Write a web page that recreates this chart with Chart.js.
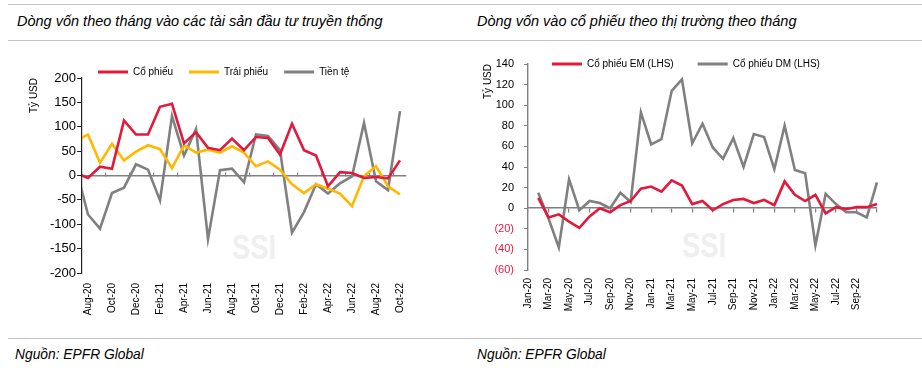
<!DOCTYPE html>
<html>
<head>
<meta charset="utf-8">
<script src="https://cdn.jsdelivr.net/npm/chart.js@4.4.0/dist/chart.umd.min.js"></script>
<style>
body { margin: 0; background: #fff; font-family: 'Liberation Sans', Arial, sans-serif; }
#page { position: relative; width: 922px; height: 378px; overflow: hidden; background: #fff; }
.rule { position: absolute; height: 0; border-top: 1.5px solid #c4c4c4; }
.ttl { position: absolute; font-style: italic; font-size: 14.5px; line-height: 16px; color: #000; white-space: nowrap; }
.src { position: absolute; font-style: italic; font-size: 13.8px; line-height: 16px; color: #000; white-space: nowrap; }
.wm { position: absolute; font-weight: bold; font-size: 35px; line-height: 35px; color: #efefef; transform: scaleX(0.78); transform-origin: left top; }
.box { position: absolute; }
</style>
</head>
<body>
<div id="page">
  <div class="rule" style="left:8px;top:4px;width:914px"></div>
  <div class="rule" style="left:8px;top:40px;width:914px"></div>
  <div class="rule" style="left:8px;top:338px;width:914px"></div>
  <div class="ttl" style="left:17px;top:13px">Dòng vốn theo tháng vào các tài sản đầu tư truyền thống</div>
  <div class="ttl" style="left:477px;top:13px">Dòng vốn vào cổ phiếu theo thị trường theo tháng</div>
  <div class="src" style="left:15px;top:347px">Nguồn: EPFR Global</div>
  <div class="src" style="left:477px;top:347px">Nguồn: EPFR Global</div>
  <div class="wm" style="left:232px;top:229px">SSI</div>
  <div class="wm" style="left:682px;top:227px">SSI</div>
  <div class="box" style="left:0;top:51px;width:461px;height:283px"><canvas id="left"></canvas></div>
  <div class="box" style="left:461px;top:35px;width:461px;height:299px"><canvas id="right"></canvas></div>
</div>
<script>
// left chart: monthly flows into traditional assets (Jul-20 only peeks in at the axis)
const leftMonths = ['Jul-20', 'Aug-20', 'Sep-20', 'Oct-20', 'Nov-20', 'Dec-20', 'Jan-21', 'Feb-21', 'Mar-21', 'Apr-21',
    'May-21', 'Jun-21', 'Jul-21', 'Aug-21', 'Sep-21', 'Oct-21', 'Nov-21', 'Dec-21', 'Jan-22', 'Feb-22',
    'Mar-22', 'Apr-22', 'May-22', 'Jun-22', 'Jul-22', 'Aug-22', 'Sep-22', 'Oct-22'];
const leftStocks = [5, -5, 18, 14, 113, 84, 84, 141, 147, 66, 89, 57, 52, 76, 52, 79, 77, 43, 106, 52, 41, -22, 7, 5, -5, -3, -6, 31];
const leftBonds = [71, 84, 26, 65, 31, 49, 62, 54, 15, 62, 47, 53, 47, 60, 47, 19, 29, 12, -18, -36, -18, -27, -37, -63, -1, 19, -22, -39];
const leftCurrency = [15, -80, -109, -36, -25, 23, 12, -51, 122, 41, 95, -130, 11, 14, -14, 84, 81, 52, -117, -75, -18, -37, -16, -2, 108, -12, -30, 132];

// right chart: equity flows by market
const rightMonths = ['Jan-20', 'Feb-20', 'Mar-20', 'Apr-20', 'May-20', 'Jun-20', 'Jul-20', 'Aug-20', 'Sep-20', 'Oct-20',
    'Nov-20', 'Dec-20', 'Jan-21', 'Feb-21', 'Mar-21', 'Apr-21', 'May-21', 'Jun-21', 'Jul-21', 'Aug-21',
    'Sep-21', 'Oct-21', 'Nov-21', 'Dec-21', 'Jan-22', 'Feb-22', 'Mar-22', 'Apr-22', 'May-22', 'Jun-22',
    'Jul-22', 'Aug-22', 'Sep-22', 'Oct-22', 'Nov-22'];
const emStocks = [null, 10, -9, -6, -13, -19, -8, 0, -4, 3, 7, 19, 21, 16, 27, 22, 4, 7, -2, 4, 8, 9, 5, 8, 3, 26, 13, 7, 13, -5, 1, -1, 1, 1, 4];
const dmStocks = [null, 15, -10, -38, 28, -2, 7, 5, 0, 15, 6, 93, 62, 67, 114, 125, 63, 82, 59, 48, 68, 40, 72, 69, 38, 80, 37, 34, -36, 14, 4, -4, -4, -9, 25];

const RED = '#e2193c';
const YELLOW = '#ffb700';
const GRAY = '#808080';

Chart.defaults.font.family = "'Liberation Sans', Arial, sans-serif";
Chart.defaults.color = '#000';

function lineLegend(chart) {
    return Chart.defaults.plugins.legend.labels.generateLabels(chart).map(function(l) {
        l.fillStyle = l.strokeStyle;
        l.lineWidth = 0;
        return l;
    });
}

// the legend sits half over the top of the plot, so don't clip it at the plot edge
const legendOverlap = {
    id: 'legendOverlap',
    afterLayout(chart) {
        chart.legend.bottom += 10;
        chart.legend.height += 10;
    }
};

// tick marks sit on month boundaries, every second month
function leftBoundaryTicks(scale) {
    const ticks = [];
    for (let i = 1; i < leftMonths.length; i += 2) {
        ticks.push({ value: i - 0.5 });
    }
    scale.ticks = ticks;
}

function points(values) {
    return leftMonths.map((m, i) => ({ x: i, y: values[i] }));
}

new Chart(document.getElementById('left'), {
    type: 'line',
    data: {
        datasets: [
            { label: 'Cổ phiếu', data: points(leftStocks), borderColor: RED, backgroundColor: RED },
            { label: 'Trái phiếu', data: points(leftBonds), borderColor: YELLOW, backgroundColor: YELLOW },
            { label: 'Tiền tệ', data: points(leftCurrency), borderColor: GRAY, backgroundColor: GRAY }
        ]
    },
    options: {
        animation: false,
        responsive: true,
        maintainAspectRatio: false,
        layout: { padding: { left: 0, right: 55, top: 0, bottom: 0 } },
        elements: { point: { radius: 0 }, line: { borderWidth: 2.6, tension: 0 } },
        plugins: {
            tooltip: { enabled: false },
            legend: {
                position: 'top',
                fullSize: false,
                align: 'start',
                maxHeight: 27,
                labels: { boxWidth: 30, boxHeight: 3, padding: 16, font: { size: 10 }, color: '#000', generateLabels: lineLegend }
            }
        },
        scales: {
            x: {
                type: 'linear',
                min: 0.5,
                max: leftMonths.length - 0.5,
                afterBuildTicks: leftBoundaryTicks,
                afterFit: s => { s.height = 61; },
                grid: { display: false, drawTicks: false },
                border: { display: false },
                ticks: {
                    autoSkip: false, maxRotation: 90, minRotation: 90, padding: 10, labelOffset: 6,
                    font: { size: 10 }, color: '#000',
                    callback: v => leftMonths[v + 0.5]
                }
            },
            zero: {
                type: 'linear',
                axis: 'x',
                position: { y: 0 },
                min: 0.5,
                max: leftMonths.length - 0.5,
                afterBuildTicks: leftBoundaryTicks,
                afterFit: s => { s.height = 0; },
                ticks: { display: false },
                grid: { drawOnChartArea: false, tickLength: -4, color: GRAY, lineWidth: 1.2 },
                border: { color: GRAY, width: 1.6 }
            },
            y: {
                min: -200,
                max: 200,
                afterFit: s => { s.width = 82; },
                ticks: { stepSize: 50, padding: 1, font: { size: 13 }, color: '#000' },
                grid: { drawOnChartArea: false, tickLength: 5, color: '#222' },
                border: { color: '#222', width: 1.2 },
                title: { display: true, text: 'Tỷ USD', align: 'end', padding: { top: 28 }, font: { size: 10 }, color: '#000' }
            }
        }
    },
    plugins: [legendOverlap]
});

new Chart(document.getElementById('right'), {
    type: 'line',
    data: {
        labels: rightMonths,
        datasets: [
            { label: 'Cổ phiếu EM (LHS)', data: emStocks, borderColor: RED, backgroundColor: RED },
            { label: 'Cổ phiếu DM (LHS)', data: dmStocks, borderColor: GRAY, backgroundColor: GRAY }
        ]
    },
    options: {
        animation: false,
        responsive: true,
        maintainAspectRatio: false,
        layout: { padding: { left: 0, right: 45, top: 0, bottom: 0 } },
        elements: { point: { radius: 0 }, line: { borderWidth: 2.6, tension: 0 } },
        plugins: {
            tooltip: { enabled: false },
            legend: {
                position: 'top',
                fullSize: false,
                align: 'start',
                maxHeight: 29,
                labels: { boxWidth: 30, boxHeight: 3, padding: 24, font: { size: 10 }, color: '#000', generateLabels: lineLegend }
            }
        },
        scales: {
            x: {
                afterFit: s => { s.height = 64; },
                grid: { display: false, drawTicks: false },
                border: { display: false },
                ticks: {
                    autoSkip: false, maxRotation: 90, minRotation: 90, padding: 8,
                    font: { size: 10 }, color: '#000',
                    callback: (v, i) => (i % 2 === 0 && i < rightMonths.length - 1) ? rightMonths[i] : ''
                }
            },
            zero: {
                type: 'category',
                axis: 'x',
                position: { y: 0 },
                afterFit: s => { s.height = 0; },
                ticks: { display: false },
                grid: {
                    drawOnChartArea: false, tickLength: 4, lineWidth: 1.2,
                    color: c => c.index % 2 ? 'rgba(0,0,0,0)' : GRAY
                },
                border: { color: GRAY, width: 1.6 }
            },
            y: {
                min: -60,
                max: 140,
                afterFit: s => { s.width = 67; },
                ticks: {
                    stepSize: 20, padding: 10, font: { size: 11 },
                    color: c => c.tick.value < 0 ? RED : '#000',
                    callback: v => v < 0 ? '(' + (-v) + ')' : v
                },
                grid: { drawOnChartArea: false, tickLength: 4, color: GRAY },
                border: { color: GRAY, width: 1.4 },
                title: { display: true, text: 'Tỷ USD', align: 'end', padding: { top: 21 }, font: { size: 10 }, color: '#000' }
            }
        }
    },
    plugins: [legendOverlap]
});
</script>
</body>
</html>
